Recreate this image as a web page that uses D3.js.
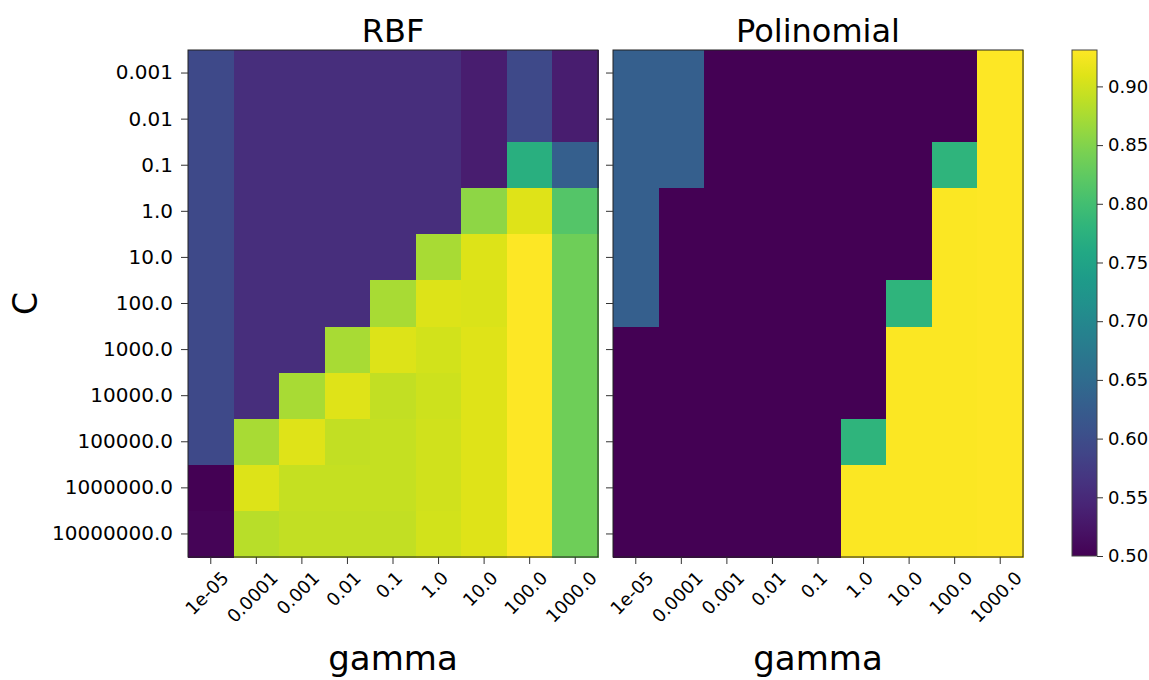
<!DOCTYPE html>
<html>
<head>
<meta charset="utf-8">
<script src="https://cdn.jsdelivr.net/npm/d3@7/dist/d3.min.js"></script>
<style>
  html, body { margin: 0; padding: 0; background: #fff; }
  svg, svg text { font-family: "DejaVu Sans", sans-serif; }
  svg { display: block; }
</style>
</head>
<body>
<svg id="chart" width="1149" height="680"></svg>
<script>
const gammaLabels = ["1e-05", "0.0001", "0.001", "0.01", "0.1", "1.0", "10.0", "100.0", "1000.0"];
const cLabels = ["0.001", "0.01", "0.1", "1.0", "10.0", "100.0", "1000.0", "10000.0", "100000.0", "1000000.0", "10000000.0"];

// rows = C (top to bottom), columns = gamma
const rbfValues = [
  [0.595, 0.556, 0.556, 0.556, 0.556, 0.556, 0.535, 0.595, 0.535],
  [0.595, 0.556, 0.556, 0.556, 0.556, 0.556, 0.535, 0.595, 0.535],
  [0.595, 0.556, 0.556, 0.556, 0.556, 0.556, 0.535, 0.772, 0.629],
  [0.595, 0.556, 0.556, 0.556, 0.556, 0.556, 0.858, 0.910, 0.815],
  [0.595, 0.556, 0.556, 0.556, 0.556, 0.875, 0.908, 0.931, 0.836],
  [0.595, 0.556, 0.556, 0.556, 0.875, 0.908, 0.906, 0.931, 0.836],
  [0.595, 0.556, 0.556, 0.875, 0.909, 0.902, 0.910, 0.931, 0.836],
  [0.595, 0.556, 0.875, 0.910, 0.892, 0.898, 0.910, 0.931, 0.836],
  [0.595, 0.875, 0.910, 0.892, 0.893, 0.900, 0.910, 0.931, 0.836],
  [0.500, 0.908, 0.893, 0.893, 0.893, 0.900, 0.910, 0.931, 0.836],
  [0.505, 0.885, 0.892, 0.892, 0.892, 0.901, 0.910, 0.931, 0.836]
];

const polyValues = [
  [0.629, 0.629, 0.500, 0.500, 0.500, 0.500, 0.500, 0.500, 0.931],
  [0.629, 0.629, 0.500, 0.500, 0.500, 0.500, 0.500, 0.500, 0.931],
  [0.629, 0.629, 0.500, 0.500, 0.500, 0.500, 0.500, 0.780, 0.931],
  [0.629, 0.500, 0.500, 0.500, 0.500, 0.500, 0.500, 0.929, 0.931],
  [0.629, 0.500, 0.500, 0.500, 0.500, 0.500, 0.500, 0.929, 0.931],
  [0.629, 0.500, 0.500, 0.500, 0.500, 0.500, 0.780, 0.929, 0.931],
  [0.500, 0.500, 0.500, 0.500, 0.500, 0.500, 0.929, 0.929, 0.931],
  [0.500, 0.500, 0.500, 0.500, 0.500, 0.500, 0.929, 0.929, 0.931],
  [0.500, 0.500, 0.500, 0.500, 0.500, 0.780, 0.929, 0.929, 0.931],
  [0.500, 0.500, 0.500, 0.500, 0.500, 0.929, 0.929, 0.929, 0.931],
  [0.500, 0.500, 0.500, 0.500, 0.500, 0.929, 0.929, 0.929, 0.931]
];

const panelTitles = ["RBF", "Polinomial"];
const colorTicks = [0.50, 0.55, 0.60, 0.65, 0.70, 0.75, 0.80, 0.85, 0.90];
const colorDomain = [0.50, 0.931];

const FONT = "DejaVu Sans";
const svg = d3.select("#chart");
const plotTop = 50, plotBottom = 557;
const panels = [
  { title: panelTitles[0], values: rbfValues, x0: 188, x1: 598, labels: true },
  { title: panelTitles[1], values: polyValues, x0: 613, x1: 1023, labels: false }
];

const color = d3.scaleSequential(d3.interpolateViridis).domain(colorDomain);
const y = d3.scaleBand().domain(cLabels).range([plotTop, plotBottom]).padding(0);

panels.forEach(p => {
  const x = d3.scaleBand().domain(gammaLabels).range([p.x0, p.x1]).padding(0);
  const g = svg.append("g");
  const cells = [];
  p.values.forEach((row, ri) => row.forEach((v, ci) => cells.push({ r: cLabels[ri], c: gammaLabels[ci], v })));
  g.selectAll("rect.cell").data(cells).join("rect")
    .attr("class", "cell")
    .attr("x", d => x(d.c))
    .attr("y", d => y(d.r))
    .attr("width", x.bandwidth() + 0.5)
    .attr("height", y.bandwidth() + 0.5)
    .attr("shape-rendering", "crispEdges")
    .attr("fill", d => color(d.v));
  g.append("rect")
    .attr("x", p.x0).attr("y", plotTop)
    .attr("width", p.x1 - p.x0).attr("height", plotBottom - plotTop)
    .attr("fill", "none").attr("stroke", "#222").attr("stroke-width", 1);

  // y axis
  const ya = g.append("g").attr("transform", `translate(${p.x0},0)`)
    .call(d3.axisLeft(y).tickSize(7).tickPadding(8))
    .attr("font-family", FONT);
  ya.select(".domain").remove();
  ya.selectAll(".tick line").attr("stroke", "#333");
  ya.selectAll(".tick text").attr("font-size", 20).attr("font-family", FONT).attr("fill", "#000")
    .style("display", p.labels ? null : "none");

  // x axis
  const xa = g.append("g").attr("transform", `translate(0,${plotBottom})`)
    .call(d3.axisBottom(x).tickSize(7))
    .attr("font-family", FONT);
  xa.select(".domain").remove();
  xa.selectAll(".tick line").attr("stroke", "#333");
  xa.selectAll(".tick text")
    .attr("font-size", 18).attr("font-family", FONT).attr("fill", "#000")
    .attr("text-anchor", "middle")
    .attr("dy", null).attr("y", null)
    .attr("dominant-baseline", "central")
    .each(function () {
      const len = this.getComputedTextLength();
      const h = (len + 16) / Math.SQRT2;
      d3.select(this).attr("transform", `translate(-4,${12 + h / 2}) rotate(-45)`);
    });

  // title
  svg.append("text")
    .attr("x", (p.x0 + p.x1) / 2).attr("y", 42)
    .attr("text-anchor", "middle").attr("font-size", 32).attr("font-family", FONT).attr("fill", "#000")
    .text(p.title);
  // x label
  svg.append("text")
    .attr("x", (p.x0 + p.x1) / 2).attr("y", 670)
    .attr("text-anchor", "middle").attr("font-size", 34).attr("font-family", FONT).attr("fill", "#000")
    .text("gamma");
});

// y label
svg.append("text")
  .attr("transform", `translate(37,${(plotTop + plotBottom) / 2}) rotate(-90)`)
  .attr("text-anchor", "middle").attr("font-size", 33).attr("font-family", FONT).attr("fill", "#000")
  .text("C");

// colorbar
const cbX = 1072, cbW = 25, cbTop = 50, cbBottom = 556;
const defs = svg.append("defs");
const grad = defs.append("linearGradient").attr("id", "viridisGrad")
  .attr("x1", 0).attr("y1", 1).attr("x2", 0).attr("y2", 0);
d3.range(0, 1.0001, 0.05).forEach(t => {
  grad.append("stop").attr("offset", t).attr("stop-color", d3.interpolateViridis(t));
});
svg.append("rect").attr("x", cbX).attr("y", cbTop).attr("width", cbW).attr("height", cbBottom - cbTop)
  .attr("fill", "url(#viridisGrad)").attr("stroke", "#444").attr("stroke-width", 1);
const cy = d3.scaleLinear().domain(colorDomain).range([cbBottom, cbTop]);
const ca = svg.append("g").attr("transform", `translate(${cbX + cbW},0)`)
  .call(d3.axisRight(cy).tickValues(colorTicks).tickFormat(d3.format(".2f")).tickSize(6).tickPadding(5))
  .attr("font-family", FONT);
ca.select(".domain").remove();
ca.selectAll(".tick line").attr("stroke", "#333");
ca.selectAll(".tick text").attr("font-size", 18).attr("font-family", FONT).attr("fill", "#000");
</script>
</body>
</html>
